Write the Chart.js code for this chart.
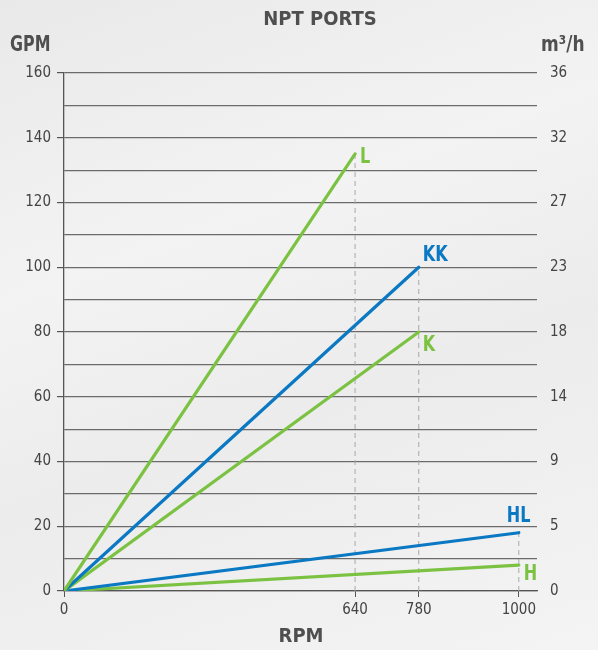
<!DOCTYPE html>
<html>
<head>
<meta charset="utf-8">
<script src="https://cdn.jsdelivr.net/npm/chart.js@4"></script>
<style>
  html, body { margin: 0; padding: 0; }
  body {
    width: 598px; height: 650px; overflow: hidden;
    background: linear-gradient(160deg, #e9e9e9 0%, #f3f3f3 35%, #ececec 60%, #f4f4f4 100%);
  }
  #wrap { position: relative; width: 598px; height: 650px; }
</style>
</head>
<body>
<div id="wrap"><canvas id="grafico" width="598" height="650"></canvas></div>
<script>
const FONTE = '"Liberation Sans Narrow", "DejaVu Sans Condensed", "Roboto", sans-serif';
const VERDE = '#7cc242';
const AZUL = '#0a78c2';

// series (RPM, GPM) endpoints, all start at 0
const series = ['L', 'KK', 'K', 'HL', 'H'];
const rpmFim = [640, 780, 780, 1000, 1000];
const gpmFim = [135, 100, 80, 18, 8];
const coresSerie = [VERDE, AZUL, VERDE, AZUL, VERDE];

// tick labels
const xTicks = [0, 640, 780, 1000];
const gpmTicks = [0, 20, 40, 60, 80, 100, 120, 140, 160];
const m3hTicks = ['0', '5', '9', '14', '18', '23', '27', '32', '36'];

// label offsets (px) around each line end
const rotuloOffset = {
  L: [5, 4], KK: [4, -12], K: [4, 14], HL: [-12, -16], H: [5, 9]
};

const dsTracejado = xTicks.slice(1).map(x => {
  let y = 0;
  series.forEach((s, i) => { if (rpmFim[i] === x) y = Math.max(y, gpmFim[i]); });
  return {
    data: [{ x: x, y: 0 }, { x: x, y: y }],
    borderColor: '#a9a9a9', borderWidth: 1, borderDash: [5, 4],
    pointRadius: 0, order: 10
  };
});

const dsLinhas = series.map((s, i) => ({
  label: s,
  data: [{ x: 0, y: 0 }, { x: rpmFim[i], y: gpmFim[i] }],
  borderColor: coresSerie[i], borderWidth: 3.2, borderCapStyle: 'round',
  pointRadius: 0, order: 1
}));

// texto comprimido na horizontal (fonte condensada)
function textoEstreito(c, txt, x, y, alinh, esc) {
  c.save();
  c.translate(x, y);
  c.scale(esc, 1);
  c.textAlign = alinh;
  c.fillText(txt, 0, 0);
  c.restore();
}

const textos = {
  id: 'textos',
  afterDatasetsDraw(chart) {
    const c = chart.ctx, xs = chart.scales.x, ys = chart.scales.y;
    c.save();
    c.textBaseline = 'middle';
    c.font = 'bold 21px ' + FONTE;
    series.forEach((s, i) => {
      const px = xs.getPixelForValue(rpmFim[i]);
      const py = ys.getPixelForValue(gpmFim[i]);
      const off = rotuloOffset[s];
      c.fillStyle = coresSerie[i];
      textoEstreito(c, s, px + off[0], py + off[1], 'left', 0.85);
    });
    c.fillStyle = '#4f4f4f';
    c.font = 'bold 20px ' + FONTE;
    textoEstreito(c, 'NPT PORTS', 320, 20, 'center', 1);
    textoEstreito(c, 'RPM', 301, 637, 'center', 1);
    c.font = 'bold 21px ' + FONTE;
    textoEstreito(c, 'GPM', 10, 46, 'left', 0.84);
    textoEstreito(c, 'm³/h', 541, 46, 'left', 0.9);
    c.restore();
  }
};

const ctx = document.getElementById('grafico').getContext('2d');
const chart = new Chart(ctx, {
  type: 'line',
  data: { datasets: dsTracejado.concat(dsLinhas) },
  options: {
    responsive: false,
    animation: false,
    layout: { padding: { top: 73, left: 0, right: 0, bottom: 0 } },
    plugins: { legend: { display: false }, tooltip: { enabled: false }, title: { display: false } },
    scales: {
      x: {
        type: 'linear', min: 0, max: 1040,
        afterBuildTicks: s => { s.ticks = xTicks.map(v => ({ value: v })); },
        afterFit: s => { s.height = 59; },
        grid: { drawOnChartArea: false, drawTicks: true, tickLength: 6, tickColor: '#555' },
        border: { color: '#555', width: 1.3 },
        ticks: {
          color: '#444', font: { family: FONTE, size: 15 }, padding: 4, maxRotation: 0, autoSkip: false,
          callback: v => String(v)
        }
      },
      y: {
        min: 0, max: 160,
        ticks: {
          stepSize: 10, color: '#444', font: { family: FONTE, size: 15 }, padding: 6,
          callback: v => gpmTicks.includes(v) ? String(v) : ''
        },
        afterFit: s => { s.width = 64; },
        grid: {
          color: '#6b6b6b', lineWidth: 1.2, tickLength: 7,
          tickColor: c => gpmTicks.includes(c.tick.value) ? '#555' : 'rgba(0,0,0,0)'
        },
        border: { color: '#555', width: 1.3 }
      },
      y2: {
        position: 'right', min: 0, max: 160,
        afterBuildTicks: s => { s.ticks = gpmTicks.map(v => ({ value: v })); },
        afterFit: s => { s.width = 61; },
        grid: { display: false },
        border: { display: false },
        ticks: {
          color: '#444', font: { family: FONTE, size: 15 }, padding: 5,
          callback: (v, i) => m3hTicks[i]
        }
      }
    }
  },
  plugins: [textos]
});
</script>
</body>
</html>
